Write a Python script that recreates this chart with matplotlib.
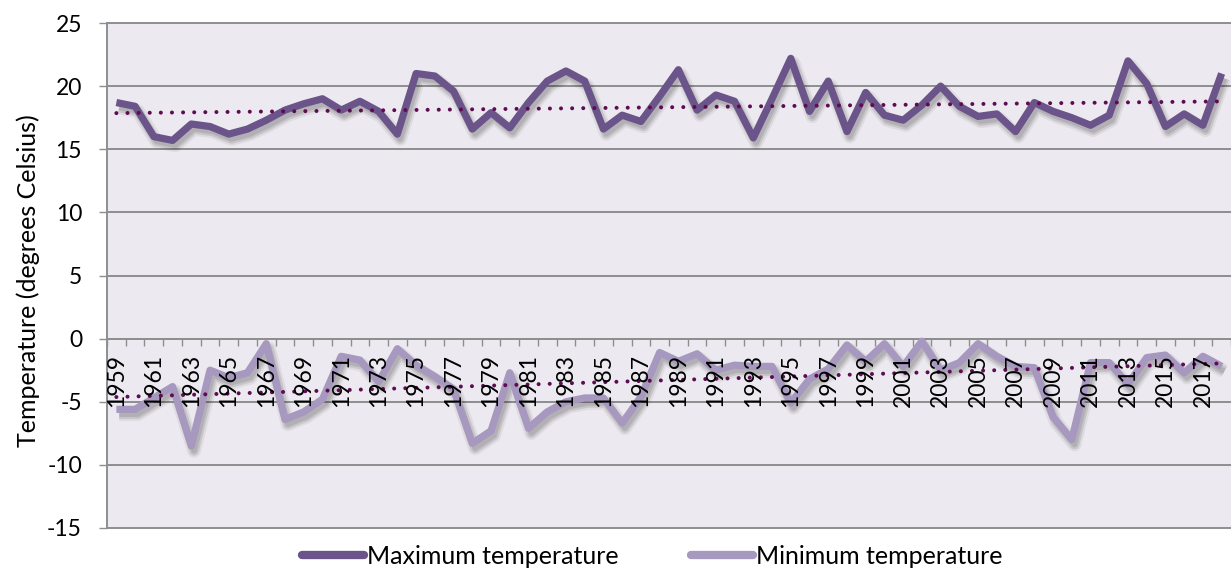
import numpy as np
import matplotlib
matplotlib.use("Agg")
import matplotlib.pyplot as plt
import matplotlib.patheffects as pe
from matplotlib.ticker import FixedLocator, NullFormatter

years = list(range(1959, 2019))

max_temp = [18.7, 18.4, 16.0, 15.7, 17.0, 16.8, 16.2, 16.6, 17.3, 18.1,
            18.6, 19.0, 18.1, 18.8, 18.0, 16.2, 21.0, 20.8, 19.6, 16.6,
            17.9, 16.7, 18.7, 20.4, 21.2, 20.4, 16.6, 17.7, 17.2, 19.2,
            21.3, 18.1, 19.3, 18.8, 15.9, 19.0, 22.2, 18.0, 20.4, 16.4,
            19.5, 17.7, 17.3, 18.5, 20.0, 18.4, 17.6, 17.8, 16.4, 18.7,
            18.0, 17.5, 16.9, 17.7, 22.0, 20.2, 16.8, 17.8, 16.9, 21.0]

min_temp = [-5.6, -5.6, -4.7, -3.8, -8.5, -2.5, -3.1, -2.7, -0.4, -6.4,
            -5.8, -4.8, -1.4, -1.7, -3.4, -0.8, -2.1, -3.0, -4.0, -8.3,
            -7.3, -2.7, -7.1, -5.8, -5.0, -4.7, -4.7, -6.7, -4.6, -1.1,
            -1.8, -1.2, -2.5, -2.1, -2.2, -2.2, -5.1, -3.2, -2.4, -0.5,
            -1.8, -0.4, -2.2, -0.2, -2.5, -1.9, -0.4, -1.4, -2.2, -2.3,
            -6.2, -8.0, -1.9, -1.9, -3.6, -1.5, -1.3, -2.7, -1.4, -2.2]

series_names = ["Maximum temperature", "Minimum temperature"]
y_ticks = [-15, -10, -5, 0, 5, 10, 15, 20, 25]

FONT = "Lato"
MAX_COLOR = "#6B5489"
MIN_COLOR = "#A698BE"
TREND_COLOR = "#5E0B52"
GRID_COLOR = "#8E8E8E"
BG_COLOR = "#ECEAF0"

plt.rcParams["font.family"] = [FONT, "DejaVu Sans"]

fig = plt.figure(figsize=(12.31, 5.71), dpi=100)
ax = fig.add_axes([107 / 1231, 1 - 528 / 571, 1 - 107 / 1231, (528 - 23) / 571])
ax.set_facecolor(BG_COLOR)

x = np.arange(len(years))

# horizontal gridlines
for yv in y_ticks:
    ax.axhline(yv, color=GRID_COLOR, lw=1.4, zorder=1, clip_on=False)

shadow = [
    pe.SimpleLineShadow(offset=(2, -3.5), shadow_color="#000000", alpha=0.06, linewidth=10),
    pe.SimpleLineShadow(offset=(2, -3.5), shadow_color="#000000", alpha=0.10, linewidth=7),
    pe.SimpleLineShadow(offset=(2, -3.5), shadow_color="#000000", alpha=0.10, linewidth=4),
    pe.Normal(),
]

for vals, color, name in [(max_temp, MAX_COLOR, series_names[0]),
                          (min_temp, MIN_COLOR, series_names[1])]:
    ax.plot(x, vals, color=color, lw=5.2, solid_joinstyle="round",
            solid_capstyle="butt", zorder=3, path_effects=shadow, label=name)

# linear trend lines
for vals in (max_temp, min_temp):
    k, b = np.polyfit(x, vals, 1)
    ax.plot(x, k * x + b, color=TREND_COLOR, lw=2.9,
            linestyle=(0, (0.01, 2.75)), dash_capstyle="round", zorder=4)

ax.set_xlim(-0.5, len(years) - 0.5)
ax.set_ylim(-15, 25)

# y axis
ax.set_yticks(y_ticks)
ax.set_yticklabels([str(v) for v in y_ticks], fontsize=16.5)
ax.tick_params(axis="y", length=6, width=1, color=GRID_COLOR, pad=12)
ax.set_ylabel("Temperature (degrees Celsius)", fontsize=18)
ax.yaxis.set_label_coords(-0.060, 0.49)

# category x axis crossing at zero
ax.spines["bottom"].set_position(("data", 0))
ax.spines["bottom"].set_color(GRID_COLOR)
ax.spines["bottom"].set_linewidth(1.4)
ax.spines["left"].set_color(GRID_COLOR)
ax.spines["left"].set_linewidth(1.4)
ax.spines["top"].set_visible(False)
ax.spines["right"].set_visible(False)

ax.set_xticks(x[::2])
ax.set_xticklabels([str(y) for y in years[::2]], rotation=90, fontsize=16.5,
                   va="top", ha="center")
ax.xaxis.set_minor_locator(FixedLocator(np.arange(-0.5, len(years), 1.0)))
ax.xaxis.set_minor_formatter(NullFormatter())
ax.tick_params(axis="x", which="major", length=0, pad=11)
ax.tick_params(axis="x", which="minor", length=5, width=1, color=GRID_COLOR,
               direction="out")
ax.xaxis.set_zorder(5)

leg = fig.legend(loc="center", bbox_to_anchor=(652 / 1231, 1 - 556 / 571),
                 ncol=2, frameon=False, fontsize=18, handlelength=2.5,
                 handletextpad=0.1, columnspacing=2.9, borderaxespad=0)
for h in leg.legend_handles:
    h.set_linewidth(6)
    h.set_solid_capstyle("round")
    h.set_path_effects([])

fig.savefig("out.png", dpi=100, facecolor="white")
